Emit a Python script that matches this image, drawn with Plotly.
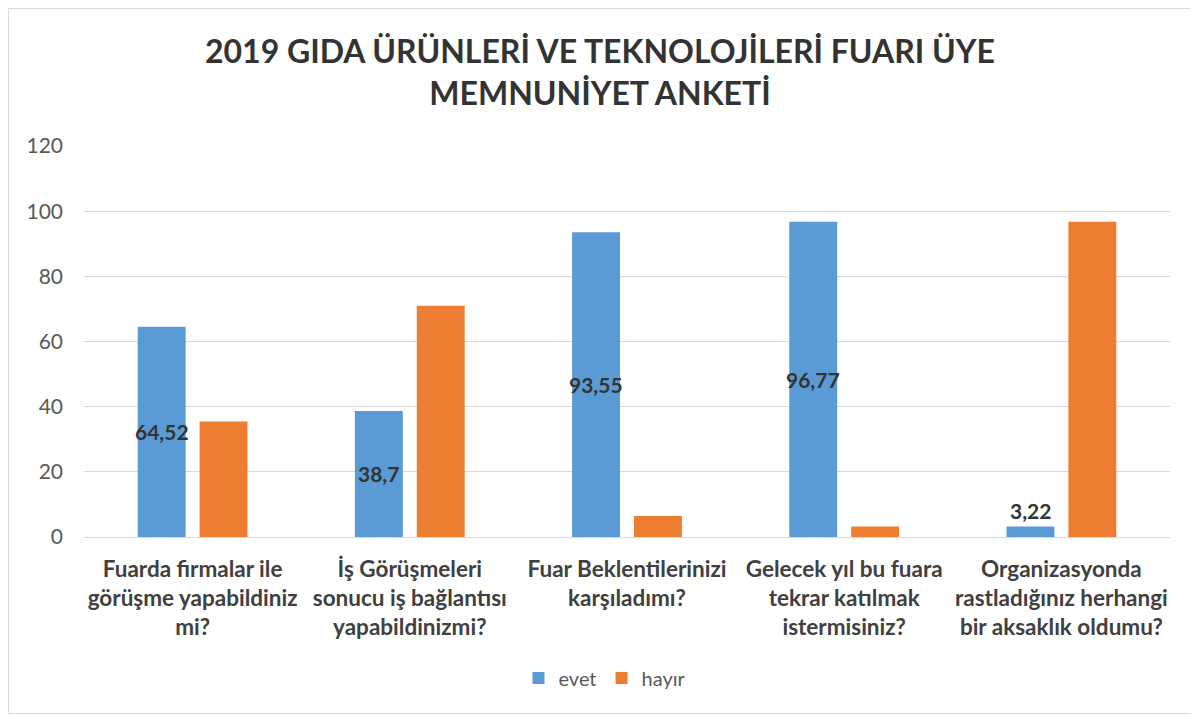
import plotly.graph_objects as go

categories = [
    "Fuarda firmalar ile<br>görüşme yapabildiniz<br>mi?",
    "İş Görüşmeleri<br>sonucu iş bağlantısı<br>yapabildinizmi?",
    "Fuar Beklentilerinizi<br>karşıladımı?<br> ",
    "Gelecek yıl bu fuara<br>tekrar katılmak<br>istermisiniz?",
    "Organizasyonda<br>rastladığınız herhangi<br>bir aksaklık oldumu?",
]
evet = [64.52, 38.7, 93.55, 96.77, 3.22]
hayir = [35.48, 70.97, 6.45, 3.23, 96.77]
evet_labels = ["64,52", "38,7", "93,55", "96,77", "3,22"]
y_ticks = [0, 20, 40, 60, 80, 100, 120]

FONT = "Lato, sans-serif"
BLUE = "#5B9BD5"
ORANGE = "#ED7D31"

fig = go.Figure()
fig.add_trace(go.Bar(name="evet", x=categories, y=evet, marker=dict(color=BLUE, line=dict(width=0))))
fig.add_trace(go.Bar(name="hayır", x=categories, y=hayir, marker=dict(color=ORANGE, line=dict(width=0))))

# data labels for "evet" series
for c, v, t in zip(categories, evet, evet_labels):
    inside = v > 10
    fig.add_annotation(
        x=c, y=v / 2 if inside else v, xref="x", yref="y",
        text=f"<b>{t}</b>", showarrow=False, xshift=-31,
        yanchor="middle" if inside else "bottom", yshift=0 if inside else 2,
        font=dict(family=FONT, size=21, color="#333333"),
    )

OFF = 8  # page body margin
W, H = 1190, 707
L, R, T, B = 84 - OFF, 28, 146 - OFF, 178
pw, ph = W - L - R, H - T - B

def px_x(p):
    return (p - OFF - L) / pw

def px_y(p):
    return (H - B - (p - OFF)) / ph

# outer chart border
fig.add_shape(type="rect", xref="paper", yref="paper",
              x0=px_x(8.5), x1=px_x(1210), y0=px_y(713.5), y1=px_y(8.5),
              line=dict(color="#D9D9D9", width=1), fillcolor="rgba(0,0,0,0)", layer="below")

fig.update_layout(
    width=W, height=H, autosize=False,
    margin=dict(l=L, r=R, t=T, b=B, autoexpand=False),
    paper_bgcolor="white", plot_bgcolor="white",
    title=dict(
        text="<b>2019 GIDA ÜRÜNLERİ VE TEKNOLOJİLERİ FUARI ÜYE<br>MEMNUNİYET ANKETİ</b>",
        x=(600 - OFF) / W, xanchor="center", xref="container",
        y=1 - (63 - OFF) / H, yanchor="middle", yref="container",
        font=dict(family=FONT, size=32, color="#333333"),
    ),
    barmode="group", bargap=0.43, bargroupgap=0.226,
    font=dict(family=FONT, color="#595959"),
    legend=dict(
        orientation="h", x=px_x(605), xanchor="center",
        y=px_y(678), yanchor="middle",
        font=dict(family=FONT, size=20, color="#595959"),
        traceorder="normal", itemwidth=30,
    ),
    showlegend=True,
)
fig.update_yaxes(
    range=[0, 120], tickvals=y_ticks, showgrid=True, gridcolor="#D9D9D9", gridwidth=1,
    zeroline=True, zerolinecolor="#D9D9D9", zerolinewidth=1,
    tickfont=dict(family=FONT, size=21, color="#595959"),
    ticks="", showline=False, ticklabelstandoff=20, automargin=False,
)
fig.update_xaxes(
    showgrid=False, ticks="", showline=False,
    tickfont=dict(family=FONT, size=22.5, color="#404040", weight="bold"),
    ticklabelstandoff=16, tickangle=0, automargin=False,
)

fig.write_html("out.html")
